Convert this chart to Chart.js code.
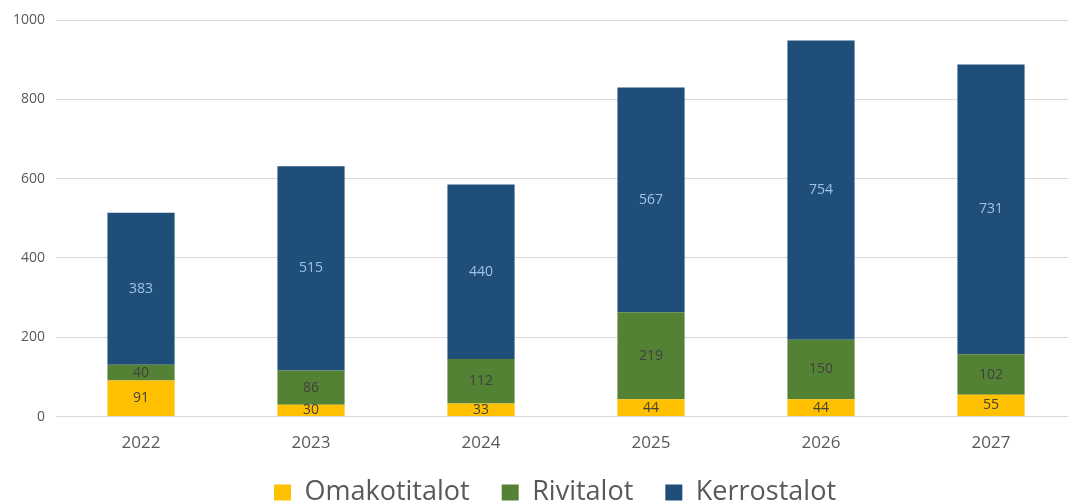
<!DOCTYPE html>
<html>
<head>
<meta charset="utf-8">
<script src="https://cdn.jsdelivr.net/npm/chart.js@4"></script>
<style>
  html, body { margin: 0; padding: 0; background: #fff; overflow: hidden; }
  /* a touch wider than the window: the plot runs to the right edge */
  #wrap { width: 1076px; height: 502px; }
</style>
</head>
<body>
<div id="wrap"><canvas id="chart"></canvas></div>
<script>
// Chart data
const years = ['2022', '2023', '2024', '2025', '2026', '2027'];
const omakotitalot = [91, 30, 33, 44, 44, 55];
const rivitalot = [40, 86, 112, 219, 150, 102];
const kerrostalot = [383, 515, 440, 567, 754, 731];
const yTicks = [0, 200, 400, 600, 800, 1000];

const FONT = "'Open Sans', 'Liberation Sans', sans-serif";

// Draw the value in the middle of every bar segment
const barLabels = {
    id: 'barLabels',
    afterDatasetsDraw(chart) {
        const ctx = chart.ctx;
        ctx.save();
        ctx.font = '14px ' + FONT;
        ctx.textAlign = 'center';
        ctx.textBaseline = 'middle';
        chart.data.datasets.forEach((ds, i) => {
            const meta = chart.getDatasetMeta(i);
            meta.data.forEach((bar, j) => {
                const mid = (bar.y + bar.base) / 2;
                ctx.fillStyle = ds.labelColor;
                ctx.fillText(ds.data[j], bar.x, mid);
            });
        });
        ctx.restore();
    }
};

// The legend sits a little right of centre in the original
const legendShift = {
    id: 'legendShift',
    afterLayout(chart) {
        chart.legend.left += 16;
        chart.legend.right += 16;
    }
};

new Chart(document.getElementById('chart'), {
    type: 'bar',
    data: {
        labels: years,
        datasets: [
            { label: 'Omakotitalot', data: omakotitalot, backgroundColor: '#ffc000', labelColor: '#404040' },
            { label: 'Rivitalot', data: rivitalot, backgroundColor: '#548235', labelColor: '#404040' },
            { label: 'Kerrostalot', data: kerrostalot, backgroundColor: '#1f4e79', labelColor: '#9dc3e6' }
        ]
    },
    options: {
        responsive: true,
        maintainAspectRatio: false,
        animation: false,
        datasets: {
            bar: { categoryPercentage: 1, barPercentage: 0.395, borderWidth: 0 }
        },
        layout: { padding: { left: 2, right: 0, top: 20, bottom: -14 } },
        plugins: {
            legend: {
                position: 'bottom',
                labels: {
                    boxWidth: 17,
                    boxHeight: 16,
                    padding: 18,
                    color: '#595959',
                    font: { family: FONT, size: 27 },
                    // widen the gap after the first two items
                    generateLabels(chart) {
                        const items = Chart.defaults.plugins.legend.labels.generateLabels(chart);
                        items.forEach((it, i) => {
                            if (i < items.length - 1) it.text += '  ';
                        });
                        return items;
                    }
                }
            },
            tooltip: { enabled: false }
        },
        scales: {
            x: {
                stacked: true,
                grid: { display: false },
                border: { color: '#d9d9d9' },
                ticks: { color: '#595959', font: { family: FONT, size: 17 }, padding: 8 }
            },
            y: {
                stacked: true,
                min: 0,
                max: 1000,
                afterBuildTicks: axis => { axis.ticks = yTicks.map(v => ({ value: v })); },
                grid: { color: '#d9d9d9', drawTicks: false },
                border: { display: false },
                ticks: {
                    color: '#595959',
                    font: { family: FONT, size: 14 },
                    padding: 11,
                    callback: v => String(v)
                }
            }
        }
    },
    plugins: [barLabels, legendShift]
});
</script>
</body>
</html>
